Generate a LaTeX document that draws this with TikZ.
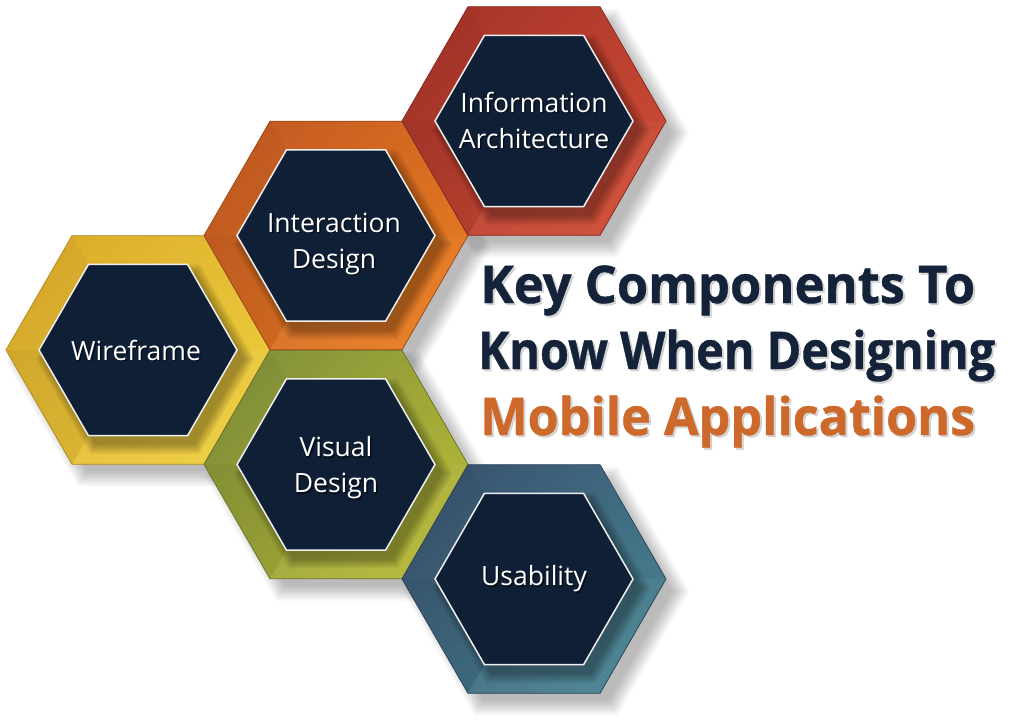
\documentclass[tikz,border=0pt]{standalone}
\usepackage{fontspec}
\usepackage{graphicx}
\setmainfont{Open Sans}
\newfontfamily\headfont{Open Sans}[BoldFeatures={FakeBold=0.8}]

\definecolor{navy}{HTML}{0F1F35}
\definecolor{titlenavy}{HTML}{14233A}
\definecolor{titleorange}{HTML}{CD692B}
\definecolor{ylwDark}{HTML}{DDAE2C}
\definecolor{ylwLight}{HTML}{ECCB3C}
\definecolor{orgDark}{HTML}{C65C22}
\definecolor{orgLight}{HTML}{E67A20}
\definecolor{redDark}{HTML}{A8352A}
\definecolor{redLight}{HTML}{CC4A33}
\definecolor{grnDark}{HTML}{86943A}
\definecolor{grnLight}{HTML}{B3B636}
\definecolor{bluDark}{HTML}{3A5570}
\definecolor{bluLight}{HTML}{46808F}

\tikzset{
  x=1pt, y=-1pt,
  hexlabel/.style={font=\fontsize{26.5}{36}\selectfont, text=white, align=center, inner sep=0pt},
  hexlabelshadow/.style={hexlabel, text=black, opacity=0.55},
  titleline/.style={anchor=base west, inner sep=0pt, font=\headfont\bfseries\fontsize{52}{60}\selectfont},
}

% flat-topped hexagon of circumradius #1 centred at the origin
\newcommand\hexpath[1]{(0:#1) -- (60:#1) -- (120:#1) -- (180:#1) -- (240:#1) -- (300:#1) -- cycle}

% soft drop shadow of a cell centred at (#1,#2)
\newcommand\hexdrop[2]{%
  \begin{scope}[shift={(#1,#2)}]
    \foreach \k in {0,...,11}{
      \fill[black, opacity=0.022, shift={(12,12)}] \hexpath{126+1.6*\k};
    }
  \end{scope}}

% one cell: centre (#1,#2), dark and light band colours #3, #4, outline #5
\newcommand\hexcell[5]{%
  \begin{scope}[shift={(#1,#2)}]
    \shade[top color=#3, bottom color=#4, shading angle=45] \hexpath{132};
    % facet tints of the bevel
    \fill[white, opacity=0.05] (60:132) -- (120:132) -- (120:99) -- (60:99) -- cycle;
    \fill[black, opacity=0.06] (120:132) -- (180:132) -- (180:99) -- (120:99) -- cycle;
    \fill[black, opacity=0.03] (180:132) -- (240:132) -- (240:99) -- (180:99) -- cycle;
    \fill[white, opacity=0.04] (0:132) -- (60:132) -- (60:99) -- (0:99) -- cycle;
    % inner shadow on the band
    \begin{scope}
      \clip \hexpath{132};
      \foreach \k in {0,...,7}{
        \fill[black, opacity=0.045, shift={(7,9)}] \hexpath{99+1.5*\k};
      }
    \end{scope}
    \draw[#5, line width=0.8pt] \hexpath{132};
    \fill[navy] \hexpath{99};
    \draw[white!88!gray, line width=1.5pt] \hexpath{99};
  \end{scope}}

\begin{document}
\begin{tikzpicture}
\useasboundingbox (0,0) rectangle (1024,725);
\fill[white] (0,0) rectangle (1024,725);

% drop shadows first, so that they fall on the background only
\hexdrop{138}{350}
\hexdrop{336}{235.5}
\hexdrop{534}{121}
\hexdrop{336}{464.5}
\hexdrop{534}{579}

% the five cells
\hexcell{138}{350}{ylwDark}{ylwLight}{ylwDark!80!black}
\hexcell{336}{464.5}{grnDark}{grnLight}{grnDark!80!black}
\hexcell{336}{235.5}{orgDark}{orgLight}{orgDark!80!black}
\hexcell{534}{121}{redDark}{redLight}{redDark!80!black}
\hexcell{534}{579}{bluDark}{bluLight}{bluDark!80!black}

% cell labels with a slight text shadow
\node[hexlabelshadow] (wfs) at (137.5,351.5) {Wireframe};
\node[hexlabel] (wf) at (136,350) {Wireframe};
\node[hexlabelshadow] (ids) at (335.5,245) {Interaction\\Design};
\node[hexlabel] (id) at (334,243.5) {Interaction\\Design};
\node[hexlabelshadow] (ias) at (535.5,121.5) {Information\\Architecture};
\node[hexlabel] (ia) at (534,120) {Information\\Architecture};
\node[hexlabelshadow] (vds) at (337.5,469.5) {Visual\\Design};
\node[hexlabel] (vd) at (336,468) {Visual\\Design};
\node[hexlabelshadow] (uss) at (535.5,580.5) {Usability};
\node[hexlabel] (us) at (534,579) {Usability};

% heading
\node[titleline, text=black!35, opacity=0.45] (t1s) at (482,305) {\resizebox{495pt}{\height}{Key Components To}};
\node[titleline, text=titlenavy] (t1) at (480,303) {\resizebox{495pt}{\height}{Key Components To}};
\node[titleline, text=black!35, opacity=0.45] (t2s) at (480,371) {\resizebox{517pt}{\height}{Know When Designing}};
\node[titleline, text=titlenavy] (t2) at (478,369) {\resizebox{517pt}{\height}{Know When Designing}};
\node[titleline, text=black!35, opacity=0.45] (t3s) at (482,437) {\resizebox{495pt}{\height}{Mobile Applications}};
\node[titleline, text=titleorange] (t3) at (480,435) {\resizebox{495pt}{\height}{Mobile Applications}};
\end{tikzpicture}
\end{document}
